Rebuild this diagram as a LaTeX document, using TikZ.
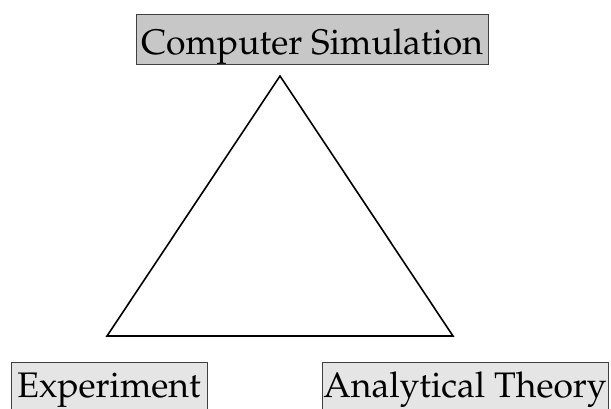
\documentclass[tikz,border=0pt]{standalone}
\usepackage[T1]{fontenc}
\usepackage{mathpazo}

\tikzset{
  label box/.style={draw=black!75, line width=0.8pt, inner xsep=0pt, inner ysep=0pt,
    font=\fontsize{35.5}{38}\selectfont, anchor=base},
}

\begin{document}
\begin{tikzpicture}[x=1pt, y=1pt]
        \useasboundingbox (0, 0) rectangle (611, 408);
        \clip (0, 0) rectangle (611, 408);

        % the three corners
        \coordinate (sim) at (280, 332);
        \coordinate (exp) at (107, 72);
        \coordinate (ana) at (453, 72);
        \draw [line width=1.6pt, line join=miter] (sim) -- (exp) -- (ana) -- cycle;

        \node [label box, fill=black!22, minimum width=352pt, text height=41pt, text depth=9pt] (simbox) at (312, 353) {Computer Simulation};
        \node [label box, fill=black!10, minimum width=196pt, text height=35pt, text depth=14pt] (expbox) at (109, 11) {Experiment};
        \node [label box, fill=black!10, minimum width=286pt, text height=35pt, text depth=14pt] (anabox) at (465, 11) {Analytical Theory};
      \end{tikzpicture}
\end{document}
